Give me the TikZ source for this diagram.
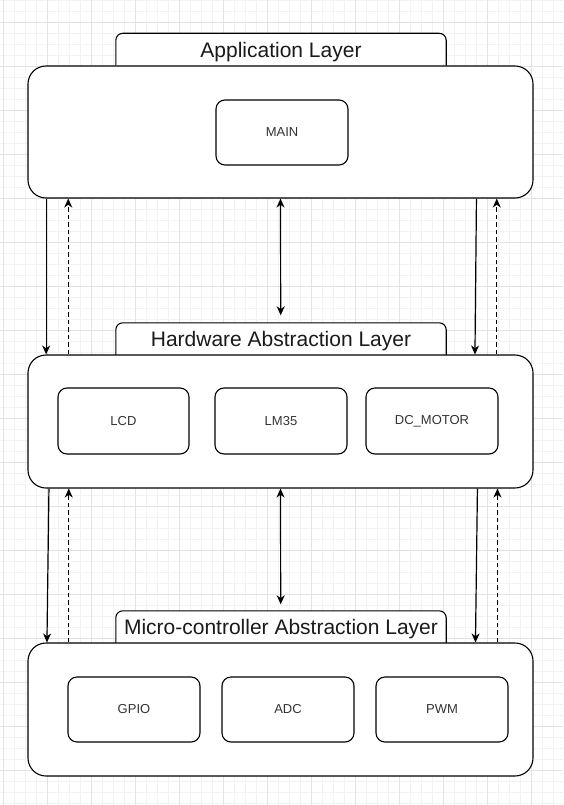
\documentclass[tikz,border=0pt]{standalone}
\usepackage{fontspec}
\setmainfont{Liberation Sans}
\usetikzlibrary{arrows.meta,calc}
\definecolor{gridminor}{HTML}{F2F2F2}
\definecolor{gridmajor}{HTML}{E3E3E3}
\definecolor{txt}{HTML}{333333}
\definecolor{ttl}{HTML}{1A1A1A}
\begin{document}
\begin{tikzpicture}[x=1pt,y=-1pt,
  layerbox/.style={draw=black, line width=1.1pt, fill=white, rounded corners=18pt, inner sep=0pt, minimum width=505pt},
  modbox/.style={draw=black, line width=1.1pt, fill=white, rounded corners=9pt, minimum width=132pt, minimum height=65pt, inner sep=0pt, font=\fontsize{13}{15}\selectfont, text=txt},
  tabtext/.style={inner sep=0pt, minimum width=330pt, minimum height=32pt, font=\fontsize{21}{25}\selectfont, text=ttl},
  tabline/.style={draw=black, line width=1.1pt, rounded corners=7pt},
  conn/.style={line width=1.2pt, draw=black},
  tip/.style={-{Stealth[length=9pt,width=8pt,inset=2.8pt]}},
  both/.style={{Stealth[length=9pt,width=8pt,inset=2.8pt]}-{Stealth[length=9pt,width=8pt,inset=2.8pt]}},
  dash3/.style={dash pattern=on 4.5pt off 3pt}
]
\useasboundingbox (0,0) rectangle (563,805);
\fill[white] (0,0) rectangle (563,805);
% grid
\foreach \k in {0,...,50} {
  \pgfmathsetmacro\xx{3.3+11*\k}
  \draw[gridminor, line width=0.9pt] (\xx,0) -- (\xx,805);
}
\foreach \k in {0,...,73} {
  \pgfmathsetmacro\yy{0.3+11*\k}
  \draw[gridminor, line width=0.9pt] (0,\yy) -- (563,\yy);
}
\foreach \k in {0,...,12} {
  \pgfmathsetmacro\xx{3.3+44*\k}
  \draw[gridmajor, line width=0.9pt] (\xx,0) -- (\xx,805);
}
\foreach \k in {0,...,17} {
  \pgfmathsetmacro\yy{22.3+44*\k}
  \draw[gridmajor, line width=0.9pt] (0,\yy) -- (563,\yy);
}

% tabs
\node[tabtext] (apptab) at (281,49.5) {};
\fill[white, rounded corners=7pt] (apptab.south west) -- (apptab.north west) -- (apptab.north east) -- (apptab.south east) -- cycle;
\node[tabtext] at ($(apptab.center)+(0,2.5)$) {Application Layer};
\draw[tabline] (apptab.south west) -- (apptab.north west) -- (apptab.north east) -- (apptab.south east);

\node[tabtext] (haltab) at (281,339) {};
\fill[white, rounded corners=7pt] (haltab.south west) -- (haltab.north west) -- (haltab.north east) -- (haltab.south east) -- cycle;
\node[tabtext] at ($(haltab.center)+(0,2.5)$) {Hardware Abstraction Layer};
\draw[tabline] (haltab.south west) -- (haltab.north west) -- (haltab.north east) -- (haltab.south east);

\node[tabtext] (mcaltab) at (281,627) {};
\fill[white, rounded corners=7pt] (mcaltab.south west) -- (mcaltab.north west) -- (mcaltab.north east) -- (mcaltab.south east) -- cycle;
\node[tabtext] at ($(mcaltab.center)+(0,2)$) {Micro-controller Abstraction Layer};
\draw[tabline] (mcaltab.south west) -- (mcaltab.north west) -- (mcaltab.north east) -- (mcaltab.south east);

% layer boxes
\node[layerbox, minimum height=132pt] (app) at (280.5,132) {};
\node[layerbox, minimum height=133pt] (hal) at (280.5,421.5) {};
\node[layerbox, minimum height=133pt] (mcal) at (280.5,709.5) {};

% modules
\node[modbox] (main) at (282,132.5) {MAIN};
\node[modbox, minimum width=131pt, minimum height=66pt] (lcd) at (123.5,421) {LCD};
\node[modbox, minimum height=66pt] (lm35) at (281,421) {LM35};
\node[modbox, minimum height=66pt] (dcm) at (432,421) {DC\_MOTOR};
\node[modbox] (gpio) at (134,709.5) {GPIO};
\node[modbox] (adc) at (288,709.5) {ADC};
\node[modbox] (pwm) at (442,709.5) {PWM};

% connectors app <-> hal
\draw[conn, tip] ($(app.south west)+(18.7,0)$) -- ($(hal.north west)+(18.7,0)$);
\draw[conn, tip, dash3] ($(hal.north west)+(40.8,0)$) -- ($(app.south west)+(40.8,0)$);
\draw[conn, both] (app.south) -- ($(haltab.north)+(-0.3,-7.5)$);
\draw[conn, tip] ($(app.south west)+(449,0)$) -- ($(hal.north west)+(447.5,0)$);
\draw[conn, tip, dash3] ($(hal.north west)+(469.3,0)$) -- ($(app.south west)+(469.3,0)$);

% connectors hal <-> mcal
\draw[conn, tip] ($(hal.south west)+(21.5,0)$) -- ($(mcal.north west)+(19.5,0)$);
\draw[conn, tip, dash3] ($(mcal.north west)+(41.3,0)$) -- ($(hal.south west)+(41.3,0)$);
\draw[conn, both] (hal.south) -- ($(mcaltab.north)+(-0.3,-6.5)$);
\draw[conn, tip] ($(hal.south west)+(450,0)$) -- ($(mcal.north west)+(448,0)$);
\draw[conn, tip, dash3] ($(mcal.north west)+(470,0)$) -- ($(hal.south west)+(470,0)$);
\end{tikzpicture}
\end{document}
